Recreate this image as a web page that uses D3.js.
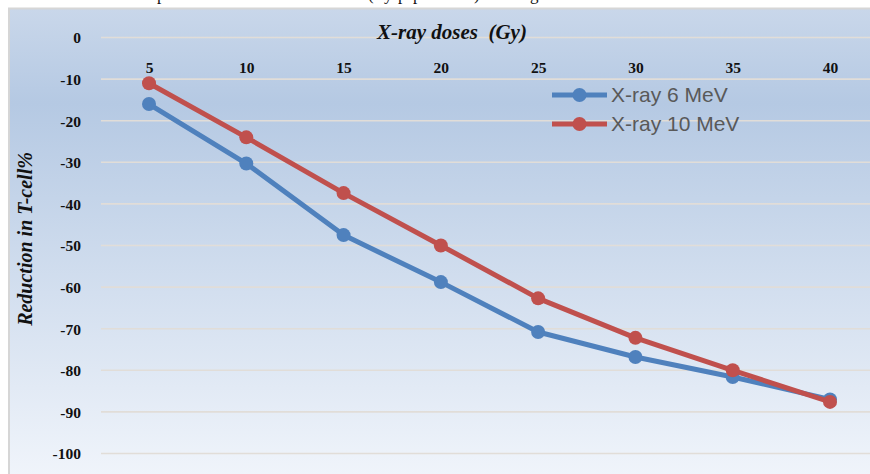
<!DOCTYPE html>
<html><head><meta charset="utf-8">
<script src="https://cdn.jsdelivr.net/npm/d3@7"></script>
<style>
html,body{margin:0;padding:0;background:#fff;}
svg{display:block;}
</style></head>
<body>
<svg id="c" width="870" height="474"></svg>
<script>
const categories = ["5","10","15","20","25","30","35","40"];
const mev6 = [-16, -30.3, -47.5, -58.8, -70.8, -76.8, -81.6, -87];
const mev10 = [-11, -24, -37.4, -50, -62.7, -72.2, -80, -87.6];
const yTicks = [0,-10,-20,-30,-40,-50,-60,-70,-80,-90,-100];
const seriesNames = ["X-ray 6 MeV","X-ray 10 MeV"];
const seriesColors = ["#4f81bd","#c0504d"];
const xTitle = "X-ray doses\u00a0\u00a0(Gy)";
const yTitle = "Reduction in  T-cell%";
const topFragments = [["p",157],["(",368],["y",384],["p",398],["p",413],[")",474],["g",530]];

const svg = d3.select("#c");
const W = 870, H = 474;

// background gradient
const defs = svg.append("defs");
const g = defs.append("linearGradient").attr("id","bg").attr("x1",0).attr("y1",0).attr("x2",0).attr("y2",1);
g.append("stop").attr("offset","0").attr("stop-color","#c9d7ea");
g.append("stop").attr("offset","0.2").attr("stop-color","#b5c9e3");
g.append("stop").attr("offset","1").attr("stop-color","#f1f5fb");

svg.append("rect").attr("x",9).attr("y",8.5).attr("width",W).attr("height",H)
  .attr("fill","url(#bg)").attr("stroke","#d6d6d6").attr("stroke-width",2);

// cropped text above chart (only descenders visible, as in the reference)
svg.append("g").selectAll("text").data(topFragments).join("text")
  .attr("x",d=>d[1]).attr("y",-0.5)
  .attr("font-family","Liberation Serif, Times New Roman, serif").attr("font-size",17)
  .attr("fill","#111").text(d=>d[0]);

const x = d3.scalePoint().domain(categories).range([149, 830]);
const y = d3.scaleLinear().domain([-100, 0]).range([453.5, 37.5]);

// gridlines
svg.append("g").selectAll("line").data(yTicks).join("line")
  .attr("x1",101).attr("x2",W).attr("y1",d=>y(d)).attr("y2",d=>y(d))
  .attr("stroke","#e1ddd8").attr("stroke-width",1.6);

// y axis
const ya = svg.append("g").attr("transform","translate(81,0)")
  .call(d3.axisLeft(y).tickValues(yTicks).tickSize(0).tickPadding(0).tickFormat(d=>String(d)));
ya.select(".domain").remove();
ya.selectAll("text").attr("font-family","Liberation Serif, Times New Roman, serif")
  .attr("font-weight","bold").attr("font-size",15.5).attr("fill","#111").attr("dy","0.35em");

// x axis labels
const xa = svg.append("g").attr("transform","translate(0,73)")
  .call(d3.axisBottom(x).tickSize(0).tickPadding(0));
xa.select(".domain").remove();
xa.selectAll("text").attr("font-family","Liberation Serif, Times New Roman, serif")
  .attr("font-weight","bold").attr("font-size",15.5).attr("fill","#111").attr("dy","0");

// titles
svg.append("text").attr("x",452).attr("y",39).attr("text-anchor","middle")
  .attr("font-family","Liberation Serif, Times New Roman, serif").attr("font-weight","bold")
  .attr("font-style","italic").attr("font-size",21).attr("fill","#111").text(xTitle);
svg.append("text").attr("transform","translate(32,239) rotate(-90)").attr("text-anchor","middle")
  .attr("font-family","Liberation Serif, Times New Roman, serif").attr("font-weight","bold")
  .attr("font-style","italic").attr("font-size",20).attr("fill","#111").text(yTitle);

// series
const series = [mev6, mev10];
const line = d3.line().x((d,i)=>x(categories[i])).y(d=>y(d));
series.forEach((s,k)=>{
  const gg = svg.append("g");
  gg.append("path").datum(s).attr("d",line).attr("fill","none")
    .attr("stroke",seriesColors[k]).attr("stroke-width",5).attr("stroke-linejoin","round");
  gg.selectAll("circle").data(s).join("circle")
    .attr("cx",(d,i)=>x(categories[i])).attr("cy",d=>y(d)).attr("r",7)
    .attr("fill",seriesColors[k]);
});

// legend
const lg = svg.append("g");
seriesNames.forEach((n,k)=>{
  const ly = 95 + k*29;
  lg.append("line").attr("x1",552).attr("x2",607).attr("y1",ly).attr("y2",ly)
    .attr("stroke",seriesColors[k]).attr("stroke-width",5);
  lg.append("circle").attr("cx",579.5).attr("cy",ly).attr("r",7).attr("fill",seriesColors[k]);
  lg.append("text").attr("x",611).attr("y",ly).attr("dy","0.35em")
    .attr("font-family","Liberation Sans, Arial, sans-serif").attr("font-size",21)
    .attr("fill","#595959").text(n);
});
</script>
</body></html>
